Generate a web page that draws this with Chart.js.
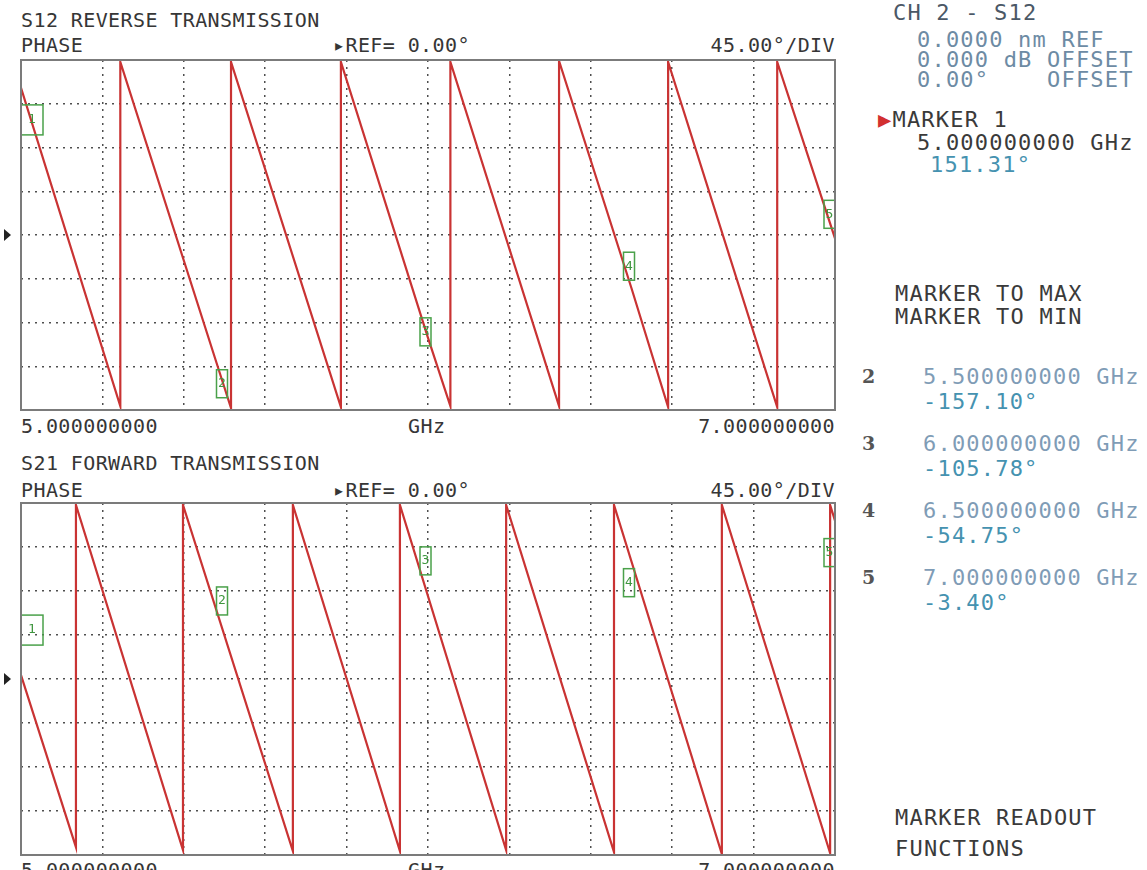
<!DOCTYPE html>
<html>
<head>
<meta charset="utf-8">
<script src="https://cdn.jsdelivr.net/npm/chart.js@4.4.0/dist/chart.umd.min.js"></script>
<style>
  body { margin: 0; background: #fff; width: 1147px; height: 870px; overflow: hidden; position: relative;
         font-family: "DejaVu Sans Mono", monospace; }
  .t { position: absolute; white-space: pre; font-size: 20px; line-height: 1; color: #363636; letter-spacing: 0.4px; }
  .p { position: absolute; white-space: pre; font-size: 22px; line-height: 1; letter-spacing: 1.2px; color: #3a3a3a; }
  .n { position: absolute; font-family: "DejaVu Serif", serif; font-weight: bold; font-size: 19px; line-height: 1; color: #555; }
  canvas { position: absolute; left: 0; }
  .dim { color: #6d8ba4; }
  .val { color: #4592b0; }
  .lt { color: #7f9cb6; }
</style>
</head>
<body>

<!-- top plot headers -->
<div class="t" style="left:21px;top:10px">S12 REVERSE TRANSMISSION</div>
<div class="t" style="left:21px;top:35px">PHASE</div>
<div class="t" style="left:333px;top:35px">▸REF= 0.00°</div>
<div class="t" style="right:312px;top:35px">45.00°/DIV</div>
<div class="t" id="s12lo" style="left:21px;top:416px"></div>
<div class="t" style="left:408px;top:416px">GHz</div>
<div class="t" id="s12hi" style="right:312px;top:416px"></div>

<!-- bottom plot headers -->
<div class="t" style="left:21px;top:453px">S21 FORWARD TRANSMISSION</div>
<div class="t" style="left:21px;top:480px">PHASE</div>
<div class="t" style="left:333px;top:480px">▸REF= 0.00°</div>
<div class="t" style="right:312px;top:480px">45.00°/DIV</div>
<div class="t" id="s21lo" style="left:21px;top:860px"></div>
<div class="t" style="left:408px;top:860px">GHz</div>
<div class="t" id="s21hi" style="right:312px;top:860px"></div>

<canvas id="s12" width="845" height="370" style="top:50px"></canvas>
<canvas id="s21" width="845" height="372" style="top:493px"></canvas>

<!-- right panel -->
<div class="p" style="left:893px;top:2px;color:#4b5866">CH 2 - S12</div>
<div class="p dim" style="left:917px;top:29px">0.0000 nm REF</div>
<div class="p dim" style="left:917px;top:49px">0.000 dB OFFSET</div>
<div class="p dim" style="left:917px;top:69px">0.00°    OFFSET</div>
<div class="p" style="left:878px;top:109px"><span style="color:#d23030">▶</span>MARKER 1</div>
<div class="p" style="left:917px;top:132px">5.000000000 GHz</div>
<div class="p val" style="left:930px;top:154px" id="m1v"></div>

<div class="p" style="left:895px;top:283px">MARKER TO MAX</div>
<div class="p" style="left:895px;top:306px">MARKER TO MIN</div>

<div id="mlist"></div>

<div class="p" style="left:895px;top:807px">MARKER READOUT</div>
<div class="p" style="left:895px;top:838px">FUNCTIONS</div>

<script>
// frequency axis (GHz) and phase axis (deg)
const freqRange = [5.0, 7.0];
const freqTicks = [5.0, 5.2, 5.4, 5.6, 5.8, 6.0, 6.2, 6.4, 6.6, 6.8, 7.0];
const phaseTicks = [-180, -135, -90, -45, 0, 45, 90, 135, 180];

// S12 phase trace, vertices
const s12Freq = [5.000, 5.244, 5.244, 5.500, 5.516, 5.516, 5.786, 5.786, 6.000, 6.055, 6.055,
                 6.322, 6.322, 6.500, 6.590, 6.590, 6.858, 6.858, 7.000];
const s12Phase = [151.31, -176, 178, -157.10, -178, 178, -177, 178, -105.78, -176, 178,
                  -176, 179, -54.75, -177, 178, -177, 178, -3.40];

// S21 phase trace
const s21Freq = [5.000, 5.135, 5.135, 5.398, 5.398, 5.668, 5.668, 5.931, 5.931, 6.192, 6.192,
                 6.457, 6.457, 6.722, 6.722, 6.988, 6.988, 7.000];
const s21Phase = [4, -172, 178, -175, 178, -176, 178, -176, 178, -175, 178,
                  -177, 178, -179, 178, -178, 178, 162];

// markers
const markerNum = [1, 2, 3, 4, 5];
const markerFreq = [5.0, 5.5, 6.0, 6.5, 7.0];
const s12MarkerPhase = [151.31, -157.10, -105.78, -54.75, -3.40];
const s21MarkerPhase = [4, 43, 84, 121, 162];

const fmtF = f => f.toFixed(9);
const fmtP = p => p.toFixed(2) + '°';

document.getElementById('s12lo').textContent = fmtF(freqRange[0]);
document.getElementById('s12hi').textContent = fmtF(freqRange[1]);
document.getElementById('s21lo').textContent = fmtF(freqRange[0]);
document.getElementById('s21hi').textContent = fmtF(freqRange[1]);
document.getElementById('m1v').textContent = fmtP(s12MarkerPhase[0]);

// marker readout list 2..5
let html = '';
for (let i = 1; i < markerNum.length; i++) {
  const top = 366 + (i - 1) * 67;
  html += '<div class="n" style="left:862px;top:' + (top + 1) + 'px">' + markerNum[i] + '</div>';
  html += '<div class="p lt" style="left:923px;top:' + top + 'px">' + fmtF(markerFreq[i]) + ' GHz</div>';
  html += '<div class="p val" style="left:923px;top:' + (top + 25) + 'px">' + fmtP(s12MarkerPhase[i]) + '</div>';
}
document.getElementById('mlist').innerHTML = html;

const framePlugin = {
  id: 'frame',
  afterDraw(chart) {
    const a = chart.chartArea, ctx = chart.ctx;
    ctx.save();
    ctx.strokeStyle = '#7b7b7b';
    ctx.lineWidth = 2;
    ctx.strokeRect(a.left, a.top, a.right - a.left, a.bottom - a.top);
    // reference position arrow
    const y0 = chart.scales.y.getPixelForValue(0);
    ctx.fillStyle = '#222';
    ctx.beginPath();
    ctx.moveTo(4, y0 - 6);
    ctx.lineTo(11, y0);
    ctx.lineTo(4, y0 + 6);
    ctx.closePath();
    ctx.fill();
    ctx.restore();
  }
};

// green marker flags; dy = offset of the label top from the marker point
const markerPlugin = {
  id: 'markers',
  afterDatasetsDraw(chart, args, opts) {
    const ctx = chart.ctx, a = chart.chartArea;
    const xs = chart.scales.x, ys = chart.scales.y;
    ctx.save();
    ctx.strokeStyle = '#4aa14a';
    ctx.fillStyle = '#3f963f';
    ctx.lineWidth = 1.5;
    ctx.font = '13px "DejaVu Sans Mono"';
    ctx.textAlign = 'center';
    ctx.textBaseline = 'middle';
    for (let i = 0; i < markerFreq.length; i++) {
      const px = xs.getPixelForValue(markerFreq[i]);
      const py = ys.getPixelForValue(opts.phase[i]);
      let w = 11, h = 28, bx = px - w + 3;
      if (i === 0) { w = 22; h = 30; bx = px; }
      if (bx + w > a.right) bx = a.right - w;
      const by = py + opts.dy[i];
      ctx.strokeRect(bx, by, w, h);
      ctx.fillText(String(markerNum[i]), bx + w / 2, by + h / 2);
    }
    ctx.restore();
  }
};

function makeChart(id, freq, phase, mPhase, dy) {
  const pts = freq.map((f, i) => ({ x: f, y: phase[i] }));
  const grid = { color: 'rgba(35,35,35,0.8)', lineWidth: 1.5, drawTicks: false };
  return new Chart(document.getElementById(id), {
    type: 'scatter',
    data: {
      datasets: [{
        data: pts, showLine: true, borderColor: '#c93333', borderWidth: 2.2,
        pointRadius: 0, tension: 0
      }]
    },
    options: {
      responsive: false,
      animation: false,
      layout: { padding: { left: 21, right: 10, top: 10, bottom: 10 } },
      plugins: {
        legend: { display: false },
        tooltip: { enabled: false },
        markers: { phase: mPhase, dy: dy }
      },
      scales: {
        x: {
          type: 'linear', min: freqRange[0], max: freqRange[1],
          afterBuildTicks: s => { s.ticks = freqTicks.map(v => ({ value: v })); },
          ticks: { display: false },
          grid: grid,
          border: { display: false, dash: [2, 5] }
        },
        y: {
          min: phaseTicks[0], max: phaseTicks[phaseTicks.length - 1],
          afterBuildTicks: s => { s.ticks = phaseTicks.map(v => ({ value: v })); },
          ticks: { display: false },
          grid: grid,
          border: { display: false, dash: [2, 5] }
        }
      }
    },
    plugins: [framePlugin, markerPlugin]
  });
}

makeChart('s12', s12Freq, s12Phase, s12MarkerPhase, [17, -18, -20, -36, -38]);
makeChart('s21', s21Freq, s21Phase, s21MarkerPhase, [-60, -50, -50, 8, 18]);
</script>
</body>
</html>
